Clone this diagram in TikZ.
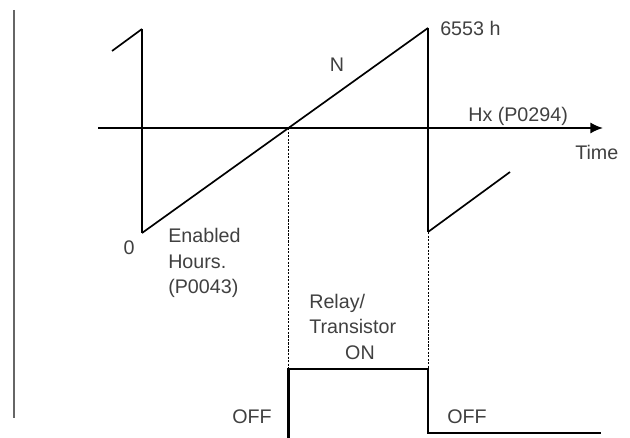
\documentclass[tikz,border=0pt]{standalone}
\usepackage{fontspec}
\setmainfont{Liberation Sans}
\usetikzlibrary{arrows.meta}

\begin{document}
\begin{tikzpicture}[>=Latex,x=0.025cm,y=-0.025cm,font=\fontsize{14}{18}\selectfont,
  lbl/.style={inner sep=0pt,text=black!75}]
  \useasboundingbox (0,0) rectangle (630,438);
  \draw[black!60,line width=0.8pt] (14,10) -- (14,418);
  % sawtooth
  \coordinate (top1) at (142,29);
  \coordinate (low1) at (142,233);
  \coordinate (cross) at (288.5,128);
  \coordinate (top2) at (428,28);
  \coordinate (low2) at (428,232);
  \draw[line width=1.2pt] (112,51) -- (top1);
  \draw[line width=0.8pt] (top1) -- (low1);
  \draw[line width=1.2pt] (low1) -- (top2);
  \draw[line width=0.8pt] (top2) -- (low2);
  \draw[line width=1.2pt] (low2) -- (510,172);
  \draw[->,line width=1.5pt,-{Latex[length=9pt,width=8pt]}] (98,128) -- (603,128);
  % relay
  \coordinate (up1) at (288.5,369);
  \coordinate (up2) at (428,369);
  \draw[line width=0.5pt,dash pattern=on 1.5pt off 1pt] (cross) -- (up1);
  \draw[line width=0.5pt,dash pattern=on 1.5pt off 1pt] (low2) -- (up2);
  \draw[line width=1.6pt] (288.5,438) -- (up1) -- (up2) -- (428,433) -- (601,433);
  % labels
  \node[lbl,anchor=west] (max) at (440,28) {6553 h};
  \node[lbl] (n) at (337,65) {N};
  \node[lbl,anchor=west] (hx) at (468,116) {Hx (P0294)};
  \node[lbl,anchor=west] (time) at (575,152) {Time};
  \node[lbl] (zero) at (129,248) {0};
  \node[lbl,anchor=west,align=left] (enab) at (168,263) {Enabled\\Hours.\\(P0043)};
  \node[lbl,anchor=west,align=left] (relay) at (309,314) {Relay/\\Transistor};
  \node[lbl] (on) at (360,353) {ON};
  \node[lbl,anchor=west] (off1) at (232,417) {OFF};
  \node[lbl,anchor=west] (off2) at (447,417) {OFF};
\end{tikzpicture}
\end{document}
